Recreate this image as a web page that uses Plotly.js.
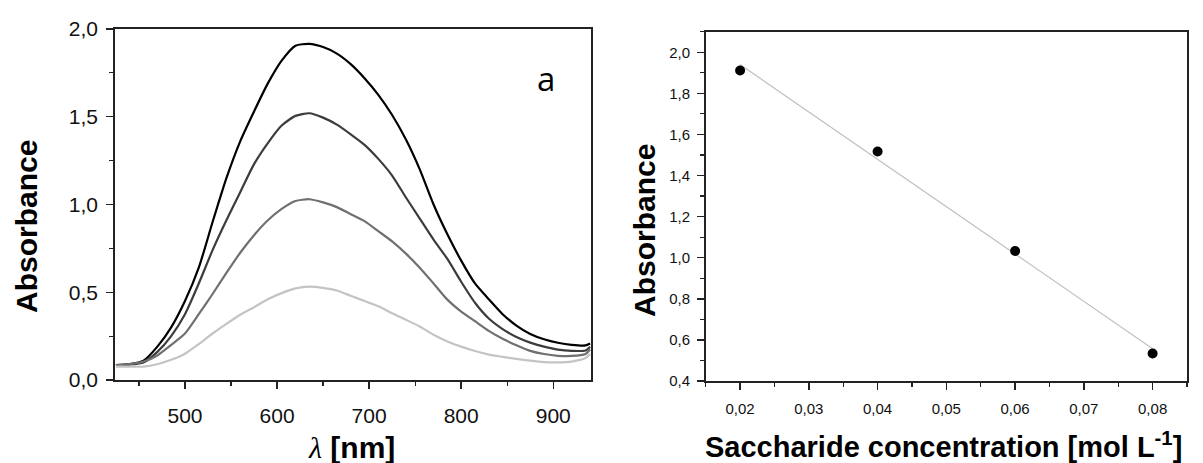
<!DOCTYPE html>
<html>
<head>
<meta charset="utf-8">
<script src="https://cdn.plot.ly/plotly-3.0.1.min.js"></script>
<style>html,body{margin:0;padding:0;background:#fff;}#chart{width:1203px;height:463px;}</style>
</head>
<body>
<div id="chart"></div>
<script>
// ---- Panel (a): absorption spectra ----
const wavelength = [425,440,455,470,485,500,515,530,545,560,575,590,605,620,635,650,665,680,695,710,725,740,755,770,785,800,815,830,845,860,875,890,905,920,935,940];
const absConc002 = [0.085,0.09,0.11,0.19,0.30,0.45,0.64,0.90,1.15,1.36,1.53,1.69,1.82,1.905,1.915,1.897,1.86,1.80,1.72,1.625,1.51,1.37,1.20,1.00,0.83,0.68,0.55,0.46,0.375,0.31,0.262,0.232,0.212,0.20,0.197,0.208];
const absConc004 = [0.085,0.088,0.10,0.16,0.25,0.375,0.55,0.74,0.91,1.07,1.23,1.35,1.45,1.505,1.52,1.495,1.455,1.40,1.34,1.26,1.165,1.04,0.92,0.80,0.69,0.56,0.44,0.35,0.29,0.245,0.213,0.19,0.173,0.166,0.168,0.19];
const absConc006 = [0.085,0.09,0.105,0.14,0.20,0.265,0.375,0.49,0.61,0.725,0.825,0.91,0.975,1.02,1.03,1.012,0.985,0.945,0.905,0.848,0.79,0.72,0.64,0.55,0.458,0.39,0.335,0.28,0.235,0.198,0.166,0.148,0.138,0.137,0.148,0.175];
const absConc008 = [0.076,0.076,0.076,0.09,0.115,0.15,0.205,0.265,0.32,0.372,0.415,0.46,0.495,0.522,0.532,0.525,0.51,0.48,0.45,0.42,0.38,0.343,0.305,0.258,0.22,0.19,0.165,0.145,0.132,0.12,0.11,0.102,0.10,0.105,0.125,0.148];

// ---- Panel (b): calibration ----
const concentration = [0.02, 0.04, 0.06, 0.08];
const peakAbsorbance = [1.911, 1.517, 1.033, 0.534];
const fitConc = [0.02, 0.08];
const fitAbs = [1.940, 0.557];

const W = 1203, H = 463;
const px = x => x / W;
const py = y => (H - y) / H;

const lineCol = ['#000000', '#3c3c3c', '#707070', '#c4c4c4'];
const spectra = [absConc002, absConc004, absConc006, absConc008];

const traces = spectra.map((s, i) => ({
  x: wavelength, y: s, xaxis: 'x', yaxis: 'y', type: 'scatter', mode: 'lines',
  line: {color: lineCol[i], width: 2.2, shape: 'spline', smoothing: 0.6},
  hoverinfo: 'skip', showlegend: false
}));
traces.push({
  x: fitConc, y: fitAbs, xaxis: 'x2', yaxis: 'y2', type: 'scatter', mode: 'lines',
  line: {color: '#c0c0c0', width: 1.2}, showlegend: false, hoverinfo: 'skip'
});
traces.push({
  x: concentration, y: peakAbsorbance, xaxis: 'x2', yaxis: 'y2', type: 'scatter', mode: 'markers',
  marker: {color: '#000', size: 10}, showlegend: false, hoverinfo: 'skip'
});

const tickFontL = {family: 'Liberation Sans, Arial, sans-serif', size: 21, color: '#111'};
const tickFontR = {family: 'Liberation Sans, Arial, sans-serif', size: 15, color: '#111'};
const axCommon = {
  showline: true, linecolor: '#222', linewidth: 1.8, mirror: true,
  ticks: 'outside', tickcolor: '#222', tickwidth: 1.4, ticklen: 7,
  showgrid: false, zeroline: false, fixedrange: true
};

const layout = {
  width: W, height: H,
  margin: {l: 0, r: 0, t: 0, b: 0},
  paper_bgcolor: '#fff', plot_bgcolor: '#fff',
  separators: ', ',
  showlegend: false,
  xaxis: Object.assign({}, axCommon, {
    domain: [px(115), px(591)], anchor: 'y', range: [424, 941],
    dtick: 100, tick0: 0, tickformat: 'd', tickfont: tickFontL, ticklabelstandoff: 9,
    minor: {dtick: 50, ticks: 'outside', ticklen: 4, tickcolor: '#222', tickwidth: 1.2, showgrid: false}
  }),
  yaxis: Object.assign({}, axCommon, {
    domain: [py(380), py(29)], anchor: 'x', range: [0, 2.0],
    dtick: 0.5, tick0: 0, tickformat: '.1f', tickfont: tickFontL, ticklabelstandoff: 4,
    minor: {dtick: 0.25, ticks: 'outside', ticklen: 4, tickcolor: '#222', tickwidth: 1.2, showgrid: false}
  }),
  xaxis2: Object.assign({}, axCommon, {
    domain: [px(705.7), px(1187)], anchor: 'y2', range: [0.015, 0.085],
    dtick: 0.01, tick0: 0, tickformat: '.2f', tickfont: tickFontR, ticklabelstandoff: 6, linewidth: 1.6,
    minor: {dtick: 0.005, ticks: 'outside', ticklen: 4, tickcolor: '#222', tickwidth: 1.2, showgrid: false}
  }),
  yaxis2: Object.assign({}, axCommon, {
    domain: [py(381), py(31.7)], anchor: 'x2', range: [0.4, 2.1],
    dtick: 0.2, tick0: 0, tickformat: '.1f', tickfont: tickFontR, ticklabelstandoff: 4, linewidth: 1.6,
    minor: {dtick: 0.1, ticks: 'outside', ticklen: 4, tickcolor: '#222', tickwidth: 1.2, showgrid: false}
  }),
  annotations: [
    {text: 'a', xref: 'paper', yref: 'paper', x: px(546), y: py(78), xanchor: 'center', yanchor: 'middle',
     showarrow: false, font: {family: 'Open Sans, sans-serif', size: 33, color: '#000'}},
    {text: '<b>Absorbance</b>', xref: 'paper', yref: 'paper', x: px(26), y: py(227), textangle: -90,
     xanchor: 'center', yanchor: 'middle', showarrow: false,
     font: {family: 'Liberation Sans, Arial, sans-serif', size: 30, color: '#000'}},
    {text: '<span style="font-family:\'Liberation Serif\',serif;font-style:italic">λ</span><b> [nm]</b>', xref: 'paper', yref: 'paper',
     x: px(351), y: py(447), xanchor: 'center', yanchor: 'middle', showarrow: false,
     font: {family: 'Liberation Sans, Arial, sans-serif', size: 30, color: '#000'}},
    {text: '<b>Absorbance</b>', xref: 'paper', yref: 'paper', x: px(644), y: py(231), textangle: -90,
     xanchor: 'center', yanchor: 'middle', showarrow: false,
     font: {family: 'Liberation Sans, Arial, sans-serif', size: 30, color: '#000'}},
    {text: '<b>Saccharide concentration [mol L<sup>-1</sup>]</b>', xref: 'paper', yref: 'paper',
     x: px(943), y: py(445), xanchor: 'center', yanchor: 'middle', showarrow: false,
     font: {family: 'Liberation Sans, Arial, sans-serif', size: 29, color: '#000'}}
  ]
};

Plotly.newPlot('chart', traces, layout, {displayModeBar: false, staticPlot: true});
</script>
</body>
</html>
